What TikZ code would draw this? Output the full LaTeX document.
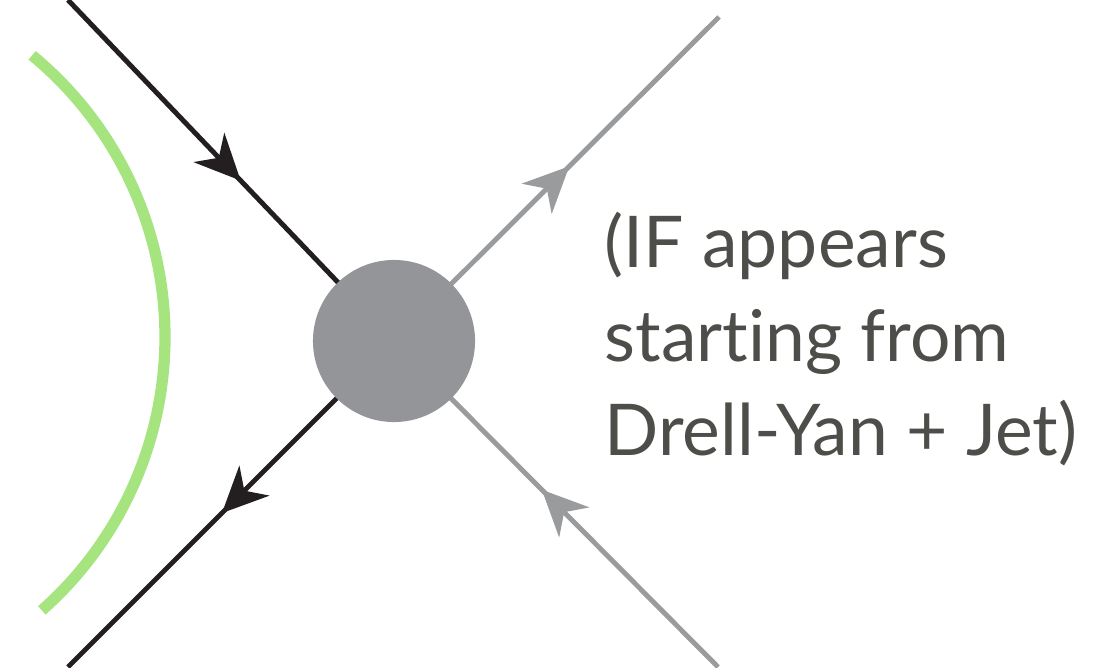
\documentclass[tikz,border=0pt]{standalone}
\usepackage{fontspec}
\setmainfont{Lato}[Ligatures={NoCommon,NoContextual}]
\usepackage{tikz}
\usetikzlibrary{arrows.meta,decorations,decorations.markings}
\definecolor{qline}{HTML}{231F20}
\definecolor{gline}{HTML}{9A9B9D}
\definecolor{blobc}{HTML}{939598}
\definecolor{legc}{HTML}{A6E47F}
\definecolor{txtc}{HTML}{4D4D49}
\tikzset{blob/.style={circle,fill=blobc,minimum size=1.62cm,inner sep=0pt},
 leg/.style={line width=1.4pt},
 midarr/.style={postaction={decorate},decoration={markings,mark=at position #1 with {\arrow{Stealth[length=13pt,width=12pt,inset=4pt]}}}},
 cut/.style={line width=3.2pt,color=legc}}

\begin{document}
\begin{tikzpicture}[x=0.01cm,y=-0.01cm]
\useasboundingbox (0,0) rectangle (1095,667);
\coordinate (vtx) at (394,341);
\coordinate (qa) at (68,0);
\coordinate (qb) at (68,667);
\coordinate (ga) at (719,17);
\coordinate (gb) at (718,667);
\draw[leg,qline,midarr=0.53] (qa) -- (vtx);
\draw[leg,qline,midarr=0.53] (vtx) -- (qb);
\draw[leg,gline,midarr=0.54] (vtx) -- (ga);
\draw[leg,gline,midarr=0.546] (gb) -- (vtx);
\node[blob] (v0) at (vtx) {};
\draw[cut] (-200,337) ++(-50.5:365) arc[start angle=-50.5,end angle=48.5,radius=365];
\node[anchor=base west,align=left,inner sep=0pt,text=txtc,font=\fontsize{20.3pt}{26.6pt}\selectfont] (lbl) at (604,455) {(IF appears\\starting from\\Drell-Yan + Jet)};
\end{tikzpicture}
\end{document}
